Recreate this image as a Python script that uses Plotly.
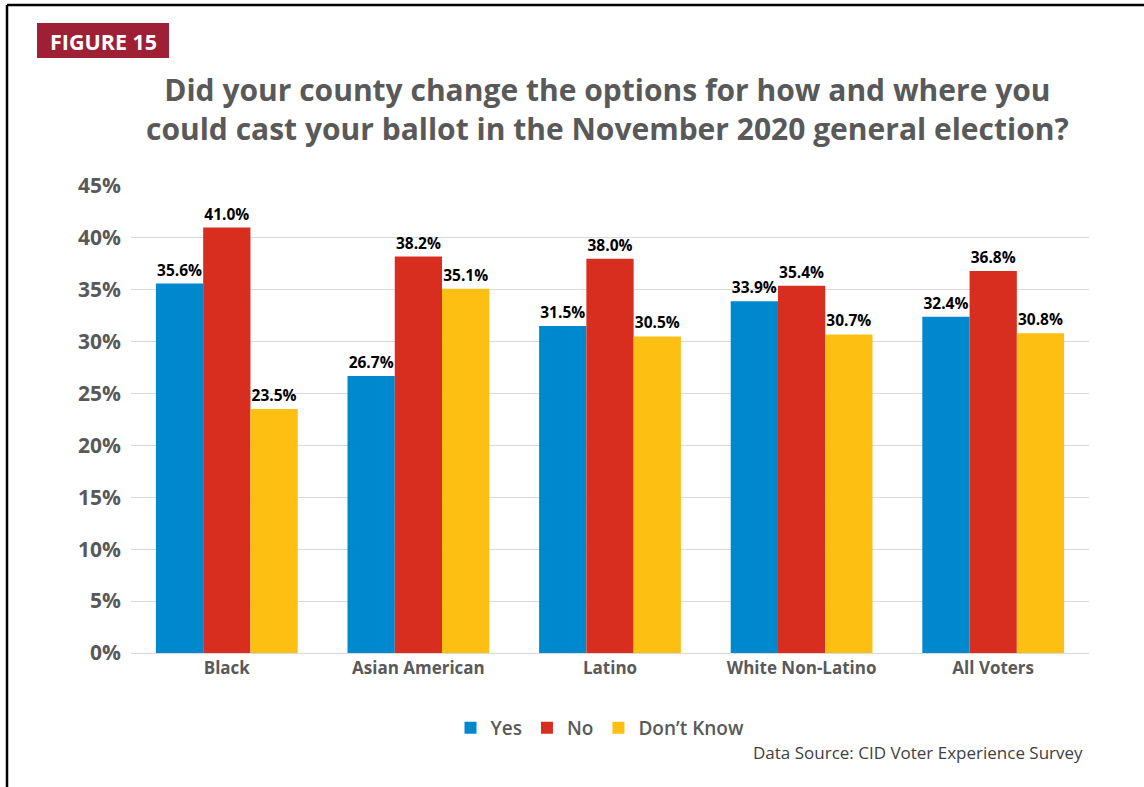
import plotly.graph_objects as go

categories = ["Black", "Asian American", "Latino", "White Non-Latino", "All Voters"]
yes_vals = [35.6, 26.7, 31.5, 33.9, 32.4]
no_vals = [41.0, 38.2, 38.0, 35.4, 36.8]
dk_vals = [23.5, 35.1, 30.5, 30.7, 30.8]
series_names = ["Yes", "No", "Don\u2019t Know"]
colors = ["#0088CF", "#D72E20", "#FDBF12"]
tick_vals = [0, 5, 10, 15, 20, 25, 30, 35, 40, 45]
tick_text = [f"{v}%" for v in tick_vals]

W, H = 1144, 787
L, R, T, B = 131, 1089, 186, 653

def px(x):
    return (x - L) / (R - L)

def py(y):
    return (B - y) / (B - T)

FONT = "Open Sans"
fig = go.Figure()
for name, vals, c in zip(series_names, [yes_vals, no_vals, dk_vals], colors):
    fig.add_trace(go.Bar(
        x=categories, y=vals, name=name, marker=dict(color=c, line=dict(width=0)),
        text=[f"{v:.1f}%" for v in vals], textposition="outside",
        textfont=dict(family=FONT, size=15.5, color="#000000", weight="bold"),
        cliponaxis=False,
    ))

fig.update_layout(
    width=W, height=H,
    margin=dict(l=L, r=W - R, t=T, b=H - B),
    paper_bgcolor="white", plot_bgcolor="white",
    barmode="group", bargap=0.26, bargroupgap=0,
    font=dict(family=FONT),
    showlegend=True,
    legend=dict(orientation="h", x=px(600), xanchor="center", y=py(728), yanchor="middle",
                font=dict(family=FONT, size=19, color="#595959", weight=600), itemwidth=30,
                traceorder="normal"),
    xaxis=dict(showgrid=False, showline=True, linecolor="#D9D9D9", linewidth=1,
               tickfont=dict(family=FONT, size=17, color="#595959", weight="bold"),
               ticks=""),
    yaxis=dict(range=[0, 45], tickvals=tick_vals, ticktext=tick_text,
               showgrid=True, gridcolor="#D9D9D9", gridwidth=1, zeroline=False,
               tickfont=dict(family=FONT, size=21, color="#595959", weight="bold"),
               ticks="", ticklabelstandoff=9),
)

fig.add_annotation(
    text="Did your county change the options for how and where you<br>could cast your ballot in the November 2020 general election?",
    xref="paper", yref="paper", x=px(607), y=py(109), xanchor="center", yanchor="middle",
    showarrow=False, font=dict(family=FONT, size=30, color="#595959", weight="bold"),
    align="center",
)
fig.add_shape(type="rect", xref="paper", yref="paper", x0=px(37), x1=px(169), y0=py(23), y1=py(58),
              fillcolor="#9E1F36", line=dict(width=0), layer="below")
fig.add_annotation(text="FIGURE 15", xref="paper", yref="paper", x=px(103), y=py(41),
                   xanchor="center", yanchor="middle", showarrow=False,
                   font=dict(family=FONT, size=21.5, color="white", weight="bold"))
fig.add_annotation(text="Data Source: CID Voter Experience Survey", xref="paper", yref="paper",
                   x=px(1085), y=py(752), xanchor="right", yanchor="middle", showarrow=False,
                   font=dict(family=FONT, size=17, color="#404040"))
# frame lines
fig.add_shape(type="line", xref="paper", yref="paper", x0=px(7), x1=px(7), y0=py(5), y1=py(787),
              line=dict(color="black", width=2.5))
fig.add_shape(type="line", xref="paper", yref="paper", x0=px(7), x1=px(1144), y0=py(5), y1=py(5),
              line=dict(color="black", width=2.5))

fig.write_html("out.html")
